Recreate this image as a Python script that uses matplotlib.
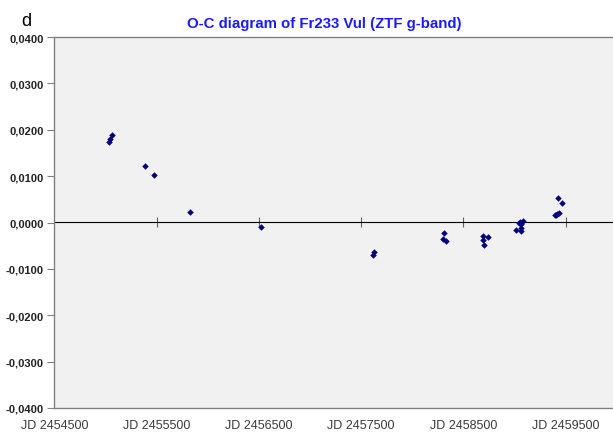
import numpy as np
import matplotlib
matplotlib.use("Agg")
import matplotlib.pyplot as plt
from matplotlib.ticker import FuncFormatter, MultipleLocator

# O-C values
jd = [2455036, 2455043, 2455063, 2455388, 2455471, 2455829, 2456521,
      2457620, 2457623, 2458311, 2458304, 2458331,
      2458693, 2458693, 2458706, 2458745,
      2459016, 2459042, 2459065, 2459062, 2459065, 2459081, 2459055,
      2459397, 2459417, 2459434, 2459407, 2459424, 2459469]
oc = [0.0173, 0.0179, 0.0188, 0.0122, 0.0103, 0.0022, -0.0009,
      -0.0070, -0.0063, -0.0022, -0.0036, -0.0040,
      -0.0030, -0.0037, -0.0048, -0.0031,
      -0.0017, 0.0000, -0.0004, -0.0011, -0.0019, 0.0003, 0.0002,
      0.0016, 0.0019, 0.0020, 0.0017, 0.0052, 0.0041]

x_ticks = np.arange(2454500, 2460000, 1000)
y_range = (-0.04, 0.04)

plt.rcParams["font.family"] = ["Liberation Sans", "DejaVu Sans"]

W, H = 613, 435
fig = plt.figure(figsize=(W / 100, H / 100), dpi=100)
ax = fig.add_axes([54.5 / W, 26 / H, (616.6 - 54.5) / W, (409 - 38) / H])
ax.set_facecolor("#f1f1f1")

ax.scatter(jd, oc, marker="D", s=11, color="#00007f", zorder=3, linewidths=0)

ax.set_xlim(2454500, 2460000)
ax.set_ylim(*y_range)

for side in ["left", "bottom", "top"]:
    ax.spines[side].set_color("#808080")
    ax.spines[side].set_linewidth(1.0)
ax.spines["right"].set_visible(False)

ax.yaxis.set_major_locator(MultipleLocator(0.01))
ax.yaxis.set_major_formatter(FuncFormatter(lambda v, p: f"{v:.4f}".replace(".", ",")))
ax.tick_params(axis="y", direction="out", length=5, color="#808080", pad=3,
               labelsize=8, labelcolor="#222222")
for lbl in ax.get_yticklabels():
    lbl.set_fontweight("bold")

ax.set_xticks(x_ticks)
ax.set_xticklabels([f"JD {t}" for t in x_ticks])
ax.tick_params(axis="x", length=0, pad=8, labelsize=9, labelcolor="#3a3a3a")

# axis crossing at zero with tick marks
zero = ax.secondary_xaxis(0.5)
zero.set_xticks(x_ticks[1:])
zero.tick_params(axis="x", direction="inout", length=7, color="#606060", labelbottom=False)
zero.xaxis.set_ticklabels([])
zero.spines["bottom"].set_color("#606060")
zero.spines["bottom"].set_linewidth(1.0)

fig.text(324 / W, 1 - 28 / H, "O-C diagram of Fr233 Vul (ZTF g-band)",
         ha="center", va="baseline", fontsize=10.8, fontweight="bold", color="#1a1aff")
fig.text(21 / W, 1 - 26 / H, "d", ha="left", va="baseline", fontsize=13, color="black")

fig.savefig("out.png", dpi=100)
